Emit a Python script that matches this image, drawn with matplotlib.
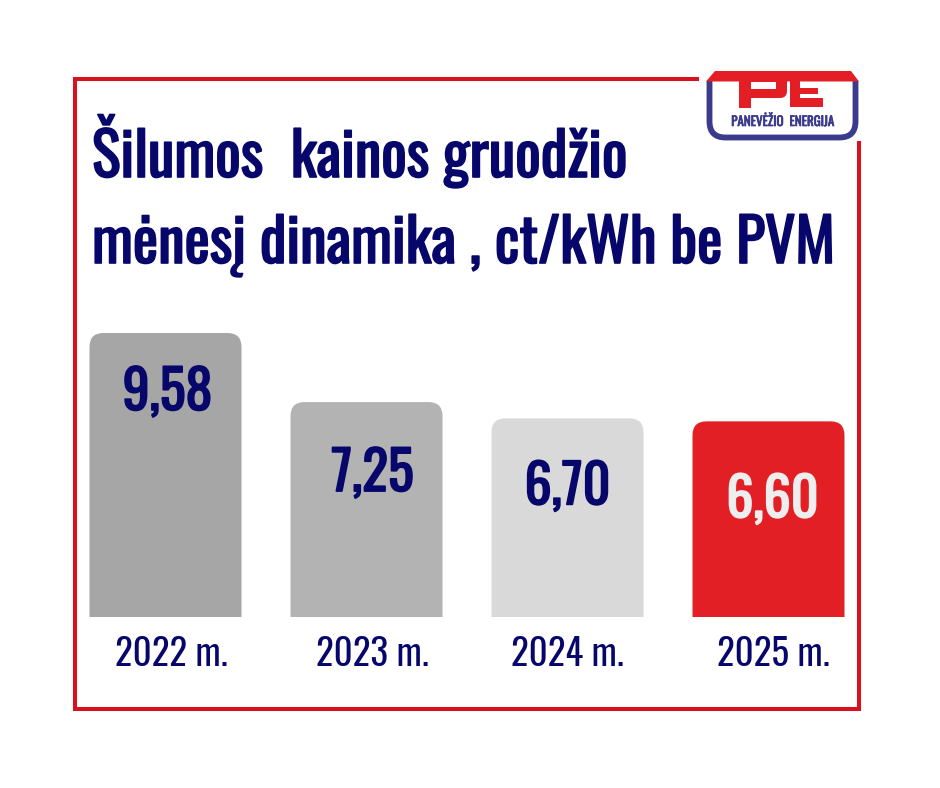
import matplotlib
matplotlib.use("Agg")
import matplotlib.pyplot as plt
import matplotlib.patheffects as pe
from matplotlib import font_manager as fm
from matplotlib.patches import FancyBboxPatch, Polygon, Rectangle, PathPatch
from matplotlib.path import Path

# --- data ---
years = ["2022 m.", "2023 m.", "2024 m.", "2025 m."]
prices = [9.58, 7.25, 6.70, 6.60]
price_labels = ["9,58", "7,25", "6,70", "6,60"]
bar_colors = ["#a6a6a6", "#b3b3b3", "#d9d9d9", "#e31f26"]
label_colors = ["#07076b", "#07076b", "#07076b", "#eeeeee"]
title_lines = ["Šilumos  kainos gruodžio", "mėnesį dinamika , ct/kWh be PVM"]

NAVY = "#07076b"
FRAME_RED = "#d8101f"
LOGO_RED = "#e31e25"
LOGO_BLUE = "#3b3a8c"


def pick(weight):
    """Condensed font file closest to the wanted weight."""
    for fam in ["Oswald", "Bebas Neue", "Fjalla One", "Roboto Condensed",
                "Liberation Sans Narrow"]:
        cands = [f for f in fm.fontManager.ttflist
                 if f.name == fam or f.name.startswith(fam + " ")]
        if cands:
            def dist(f):
                try:
                    return abs(int(f.weight) - weight)
                except (TypeError, ValueError):
                    return 500
            best = min(cands, key=dist)
            return fm.FontProperties(fname=best.fname)
    return fm.FontProperties(family="DejaVu Sans", weight=weight)


TITLE_FP = pick(600)
VALUE_FP = pick(600)
YEAR_FP = pick(300)
LOGO_FP = pick(700)

W, H = 940, 788
fig = plt.figure(figsize=(W / 100, H / 100), dpi=100)
renderer = fig.canvas.get_renderer()


def fit(t, width_px):
    w = t.get_window_extent(renderer).width
    t.set_fontsize(t.get_fontsize() * width_px / w)
    return t.get_fontsize()


def heavy(color, lw):
    # a thin outline in the text colour, to get a semibold look
    return [pe.withStroke(linewidth=lw, foreground=color)]


# background axes in pixel coordinates
bg = fig.add_axes([0, 0, 1, 1])
bg.set_xlim(0, W)
bg.set_ylim(H, 0)
bg.axis("off")

# red frame, open at the logo
bg.plot([699, 75.3, 75.3, 858.7, 858.7], [78.7, 78.7, 708.7, 708.7, 141],
        color=FRAME_RED, lw=2.9, solid_joinstyle="miter", solid_capstyle="butt")

# logo
r = 16
xl, xr, yt, yb = 709.5, 855.5, 81, 137.5
u = Path([(xl, yt), (xl, yb - r), (xl, yb), (xl + r, yb), (xr - r, yb),
          (xr, yb), (xr, yb - r), (xr, yt)],
         [Path.MOVETO, Path.LINETO, Path.CURVE3, Path.CURVE3, Path.LINETO,
          Path.CURVE3, Path.CURVE3, Path.LINETO])
bg.add_patch(PathPatch(u, fc="none", ec=LOGO_BLUE, lw=4.2, capstyle="butt"))
bg.add_patch(Polygon([(706, 81.5), (715, 71), (851, 71), (859, 81.5)],
                     fc=LOGO_RED, ec="none"))
bg.add_patch(FancyBboxPatch((739, 71), 48, 27, boxstyle="round,pad=0,rounding_size=7",
                            fc=LOGO_RED, ec="none"))
bg.add_patch(Rectangle((751, 81.5), 25, 7.5, fc="white", ec="none"))
bg.add_patch(Rectangle((739, 90), 12, 18, fc=LOGO_RED, ec="none"))
bg.add_patch(Rectangle((790, 71), 10, 36, fc=LOGO_RED, ec="none"))
bg.add_patch(Rectangle((790, 88), 28, 6, fc=LOGO_RED, ec="none"))
bg.add_patch(Rectangle((790, 98), 33, 9, fc=LOGO_RED, ec="none"))
logo_t = bg.text(783, 121, "PANEVĖŽIO  ENERGIJA", color=LOGO_BLUE,
                 ha="center", va="center", fontproperties=LOGO_FP,
                 path_effects=heavy(LOGO_BLUE, 0.5))
logo_t.set_fontsize(10)
fit(logo_t, 103)

# title
t1 = bg.text(92, 177, title_lines[0], color=NAVY, ha="left", va="baseline",
             fontproperties=TITLE_FP, path_effects=heavy(NAVY, 1.2))
t2 = bg.text(92, 263, title_lines[1], color=NAVY, ha="left", va="baseline",
             fontproperties=TITLE_FP, path_effects=heavy(NAVY, 1.2))
t2.set_fontsize(40)
fs = fit(t2, 743)
t1.set_fontsize(fs)

# bars
PX_PER_UNIT = 284 / 9.58
YMAX = 10.5
ax = fig.add_axes([65 / W, (H - 617) / H, 804 / W, YMAX * PX_PER_UNIT / H])
ax.set_xlim(-0.5, 3.5)
ax.set_ylim(0, YMAX)
ax.axis("off")
bars = ax.bar(range(len(prices)), prices, width=152 / 201, color=bar_colors)

RADIUS_PX = 14
aspect = 201 / PX_PER_UNIT
for b, c in zip(bars, bar_colors):
    b.set_visible(False)
    ax.add_patch(FancyBboxPatch((b.get_x(), -1), b.get_width(), b.get_height() + 1,
                                boxstyle=f"round,pad=0,rounding_size={RADIUS_PX / 201}",
                                mutation_aspect=aspect, fc=c, ec="none"))

# value labels and year labels
VALUE_DY = [60, 72, 69, 79]
VALUE_DX = [2, 6, 0, 4]
YEAR_DX = [6, 6, 0, 5]
vfs = None
for i, (v, lab, col) in enumerate(zip(prices, price_labels, label_colors)):
    t = ax.annotate(lab, (i, v), xytext=(VALUE_DX[i], -VALUE_DY[i]),
                    textcoords="offset pixels", ha="center", va="center",
                    color=col, fontproperties=VALUE_FP, annotation_clip=False,
                    path_effects=heavy(col, 1.2))
    if vfs is None:
        t.set_fontsize(30)
        vfs = fit(t, 90)
    else:
        t.set_fontsize(vfs)

yfs = None
for i, y in enumerate(years):
    t = ax.annotate(y, (i, 0), xytext=(YEAR_DX[i], -38), textcoords="offset pixels",
                    ha="center", va="center", color=NAVY, fontproperties=YEAR_FP,
                    annotation_clip=False)
    if yfs is None:
        t.set_fontsize(24)
        yfs = fit(t, 113)
    else:
        t.set_fontsize(yfs)

fig.savefig("out.png", dpi=100, facecolor="white")
